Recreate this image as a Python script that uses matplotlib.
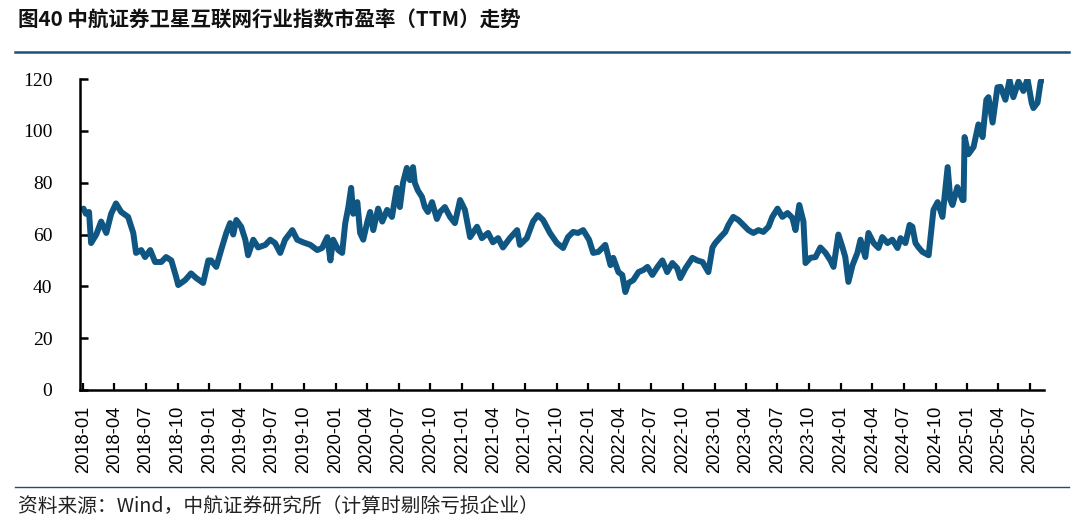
import matplotlib
matplotlib.use("Agg")
import matplotlib.pyplot as plt
import pandas as pd
from matplotlib.lines import Line2D

title = "图40 中航证券卫星互联网行业指数市盈率（TTM）走势"
source = "资料来源：Wind，中航证券研究所（计算时剔除亏损企业）"

dates = [
    "2018-01-02", "2018-01-09", "2018-01-18", "2018-01-24", "2018-02-08", "2018-02-22",
    "2018-03-09", "2018-03-23", "2018-04-06", "2018-04-21", "2018-05-11", "2018-05-26",
    "2018-06-03", "2018-06-18", "2018-06-29", "2018-07-14", "2018-07-28", "2018-08-15",
    "2018-08-29", "2018-09-13", "2018-09-27", "2018-10-03", "2018-10-23", "2018-11-09",
    "2018-11-24", "2018-12-14", "2018-12-29", "2019-01-06", "2019-01-21", "2019-02-04",
    "2019-02-19", "2019-03-02", "2019-03-11", "2019-03-20", "2019-04-03", "2019-04-15",
    "2019-04-23", "2019-05-08", "2019-05-22", "2019-06-12", "2019-06-26", "2019-07-10",
    "2019-07-25", "2019-08-08", "2019-08-29", "2019-09-12", "2019-09-29", "2019-10-20",
    "2019-11-09", "2019-11-23", "2019-12-08", "2019-12-17", "2019-12-25", "2020-01-09",
    "2020-01-20", "2020-01-29", "2020-02-07", "2020-02-15", "2020-02-21", "2020-03-04",
    "2020-03-12", "2020-03-21", "2020-04-02", "2020-04-10", "2020-04-19", "2020-05-03",
    "2020-05-15", "2020-05-29", "2020-06-12", "2020-06-26", "2020-07-05", "2020-07-14",
    "2020-07-25", "2020-08-03", "2020-08-12", "2020-08-17", "2020-08-26", "2020-09-07",
    "2020-09-15", "2020-09-24", "2020-10-06", "2020-10-20", "2020-10-29", "2020-11-12",
    "2020-11-27", "2020-12-11", "2020-12-26", "2021-01-09", "2021-01-24", "2021-02-13",
    "2021-02-27", "2021-03-17", "2021-03-31", "2021-04-15", "2021-04-29", "2021-05-19",
    "2021-06-09", "2021-06-17", "2021-07-07", "2021-07-25", "2021-08-08", "2021-08-23",
    "2021-09-12", "2021-10-02", "2021-10-20", "2021-11-03", "2021-11-18", "2021-12-02",
    "2021-12-17", "2022-01-03", "2022-01-15", "2022-01-30", "2022-02-19", "2022-03-06",
    "2022-03-14", "2022-03-29", "2022-04-09", "2022-04-18", "2022-04-27", "2022-05-11",
    "2022-05-26", "2022-06-09", "2022-06-21", "2022-07-05", "2022-07-20", "2022-08-03",
    "2022-08-17", "2022-09-01", "2022-09-15", "2022-09-24", "2022-10-09", "2022-10-29",
    "2022-11-12", "2022-11-27", "2022-12-14", "2022-12-26", "2023-01-03", "2023-01-18",
    "2023-02-01", "2023-02-10", "2023-02-24", "2023-03-11", "2023-03-25", "2023-04-09",
    "2023-04-23", "2023-05-08", "2023-05-22", "2023-06-06", "2023-06-17", "2023-07-02",
    "2023-07-16", "2023-07-31", "2023-08-14", "2023-08-23", "2023-09-03", "2023-09-15",
    "2023-09-21", "2023-10-05", "2023-10-20", "2023-11-03", "2023-11-18", "2023-12-02",
    "2023-12-11", "2023-12-25", "2024-01-06", "2024-01-14", "2024-01-23", "2024-02-04",
    "2024-02-18", "2024-02-27", "2024-03-12", "2024-03-21", "2024-04-05", "2024-04-19",
    "2024-04-30", "2024-05-15", "2024-05-29", "2024-06-13", "2024-06-22", "2024-07-06",
    "2024-07-18", "2024-07-26", "2024-08-04", "2024-08-13", "2024-08-24", "2024-09-11",
    "2024-09-25", "2024-10-07", "2024-10-21", "2024-11-05", "2024-11-13", "2024-11-19",
    "2024-12-03", "2024-12-18", "2024-12-21", "2024-12-24", "2025-01-04", "2025-01-19",
    "2025-02-02", "2025-02-14", "2025-02-25", "2025-03-03", "2025-03-15", "2025-03-29",
    "2025-04-07", "2025-04-21", "2025-05-03", "2025-05-14", "2025-05-29", "2025-06-12",
    "2025-06-24", "2025-07-06", "2025-07-11", "2025-07-23", "2025-08-01", "2025-08-09",
]

pe_ttm = [
    70, 68, 68.7, 56.7, 60, 65,
    60.6, 68, 72, 68.7, 66.8, 60.6,
    52.9, 54, 51.3, 54, 49.4, 49.4,
    51.3, 50, 43.6, 40.5, 42.4, 45,
    43.2, 41.3, 50, 50, 47.5, 54,
    60.6, 64.4, 60, 65.6, 63, 58,
    52, 58, 55, 56, 58, 56.7,
    52.9, 58, 61.7, 58, 57, 56,
    54, 54.8, 59, 50, 58, 54,
    52.9, 64.4, 70.6, 78, 68, 72.5,
    60.6, 58, 65, 68.7, 61.7, 70,
    65, 69.5, 66.8, 78, 70.6, 80,
    85.7, 81, 86, 80, 77, 74.5,
    70.6, 68.7, 72.5, 66, 68.7, 70.6,
    66.8, 64.4, 73.3, 69.5, 59, 63,
    58.6, 60.6, 57, 58.6, 55, 58.6,
    61.7, 56, 58.6, 65, 67.5, 65.6,
    60.6, 56.7, 54.8, 59, 61, 60.6,
    61.7, 58, 52.9, 53.3, 56, 48.2,
    51, 45.5, 44.4, 37.8, 41.3, 42.4,
    45.5, 46.3, 47.5, 44.4, 47.5, 50,
    45.5, 49, 47, 43.2, 47, 51,
    50, 49.4, 45.5, 55, 56.7, 59,
    61, 63.7, 66.8, 65.6, 63.7, 61.7,
    60.6, 61.7, 61, 63, 66.8, 70,
    66.8, 68.3, 66.4, 61.7, 71.4, 65,
    49, 51, 51.3, 55, 52.9, 50,
    47.5, 60, 55, 51.3, 41.7, 48.2,
    52.9, 58, 51.3, 60.6, 56.7, 54.8,
    59, 56.7, 58, 54.8, 58.6, 56.7,
    63.7, 63, 56.7, 55, 53.3, 52,
    69.5, 72.5, 66.8, 86, 73.3, 71.4,
    78.3, 73.3, 73.3, 97.6, 91, 93.8,
    102.5, 97.6, 112, 113, 103.2, 116.8,
    117, 112, 119.6, 113, 119, 115.4,
    120, 110.8, 108.8, 110.9, 119, 120,
]

y_ticks = [0, 20, 40, 60, 80, 100, 120]
x_tick_labels = pd.date_range("2018-01-01", "2025-07-01", freq="QS")

line_color = "#0f5682"
rule_color = "#1f4e79"

fig = plt.figure(figsize=(10.8, 5.27), dpi=100)
ax = fig.add_axes([0.0741, 0.260, 0.893, 0.590])

d = pd.to_datetime(dates)
ax.plot(d, pe_ttm, color=line_color, lw=4.3, solid_joinstyle="round", solid_capstyle="round")

ax.set_ylim(0, 120)
ax.set_xlim(pd.Timestamp("2017-12-23"), pd.Timestamp("2025-08-12"))
ax.set_yticks(y_ticks)
ax.set_yticklabels([str(v) for v in y_ticks], fontfamily="Liberation Serif", fontsize=14)
ax.set_xticks(x_tick_labels)
ax.set_xticklabels([t.strftime("%Y-%m") for t in x_tick_labels], rotation=90,
                   fontfamily="Liberation Sans", fontsize=13.2)

for s in ["top", "right"]:
    ax.spines[s].set_visible(False)
for s in ["left", "bottom"]:
    ax.spines[s].set_linewidth(1.8)
    ax.spines[s].set_color("black")

ax.tick_params(axis="y", direction="in", length=6, width=1.8, pad=20)
ax.tick_params(axis="x", direction="in", length=5, width=1.6, pad=11)

fig.text(0.0167, 0.962, title, fontfamily=["Noto Sans CJK SC", "DejaVu Sans"],
         fontweight="bold", fontsize=14.8, va="center", ha="left", color="#111111")
fig.add_artist(Line2D([0.014, 0.99], [0.901, 0.901], transform=fig.transFigure,
                      color=rule_color, lw=1.8))
fig.add_artist(Line2D([0.014, 0.99], [0.076, 0.076], transform=fig.transFigure,
                      color=rule_color, lw=1.0))
fig.text(0.0167, 0.037, source, fontfamily=["Noto Sans CJK SC", "DejaVu Sans"],
         fontsize=14.2, va="center", ha="left", color="#222222")

fig.savefig("out.png", dpi=100)
